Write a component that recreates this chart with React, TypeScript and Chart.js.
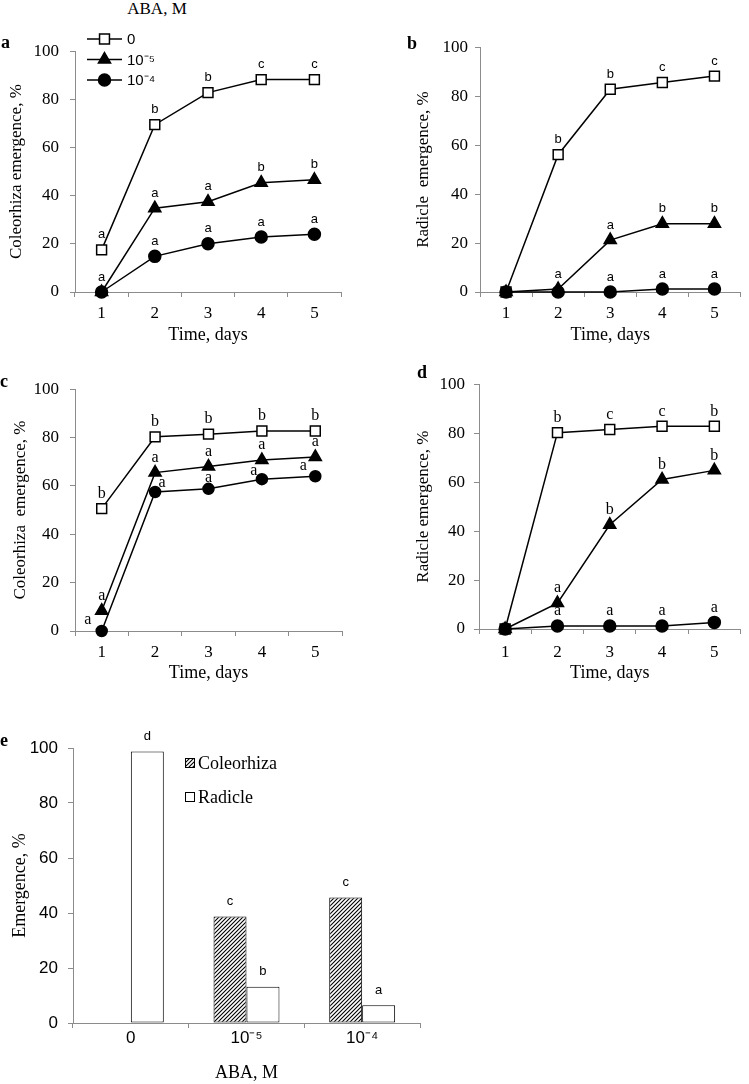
import React, { useEffect, useRef } from 'react';
import { Chart, registerables } from 'chart.js';
Chart.register(...registerables);

// ---------- data ----------
const days = ['1', '2', '3', '4', '5'];
const abaLabels = ['0', '10⁻⁵', '10⁻⁴'];

// panel a: coleorhiza emergence, %
const aCtrl = [17.5, 69.5, 82.8, 88.2, 88.2];
const aLow = [0, 34.8, 37.5, 45.4, 46.6];
const aHigh = [0, 14.8, 20.0, 22.8, 24.0];
const aCtrlSig = ['a', 'b', 'b', 'c', 'c'];
const aLowSig = ['a', 'a', 'a', 'b', 'b'];
const aHighSig = ['', 'a', 'a', 'a', 'a'];

// panel b: radicle emergence, %
const bCtrl = [0, 56.1, 82.8, 85.6, 88.2];
const bLow = [0, 1.2, 21.2, 27.9, 27.9];
const bHigh = [0, 0, 0, 1.2, 1.2];
const bCtrlSig = ['', 'b', 'b', 'c', 'c'];
const bLowSig = ['', 'a', 'a', 'b', 'b'];
const bHighSig = ['', '', 'a', 'a', 'a'];

// panel c: coleorhiza emergence, %
const cCtrl = [50.6, 80.3, 81.4, 82.7, 82.7];
const cLow = [8.4, 65.5, 68.0, 70.7, 72.0];
const cHigh = [0, 57.5, 58.8, 62.8, 64.0];
const cCtrlSig = ['b', 'b', 'b', 'b', 'b'];
const cLowSig = ['a', 'a', 'a', 'a', 'a'];
const cHighSig = ['a', 'a', 'a', 'a', 'a'];

// panel d: radicle emergence, %
const dCtrl = [0, 80.2, 81.5, 82.8, 82.8];
const dLow = [0, 10.6, 42.6, 61.1, 64.8];
const dHigh = [0, 1.2, 1.2, 1.2, 2.7];
const dCtrlSig = ['', 'b', 'c', 'c', 'b'];
const dLowSig = ['', 'a', 'b', 'b', 'b'];
const dHighSig = ['', 'a', 'a', 'a', 'a'];

// panel e: emergence, %
const eCats = ['0', '10⁻⁵', '10⁻⁴'];
const eColeo = [null, 38.7, 45.6];
const eRadicle = [98.7, 13.2, 6.5];
const eColeoSig = ['', 'c', 'c'];
const eRadicleSig = ['d', 'b', 'a'];

// ---------- styles ----------
const SERIF = '"Liberation Serif", "Times New Roman", serif';
const SANS = '"Liberation Sans", Arial, sans-serif';
const AX = '#8c8c8c';

const sigPlugin = {
  id: 'sig',
  afterDatasetsDraw(chart: any, _a: any, o: any) {
    const ctx = chart.ctx;
    ctx.save();
    ctx.font = o.font;
    ctx.fillStyle = '#000';
    ctx.textAlign = 'center';
    ctx.textBaseline = 'middle';
    chart.data.datasets.forEach((ds: any, i: number) => {
      const meta = chart.getDatasetMeta(i);
      (ds.sig || []).forEach((s: string, j: number) => {
        if (!s) return;
        const el = meta.data[j];
        if (!el) return;
        const dy = Array.isArray(ds.sigDy) ? ds.sigDy[j] : (ds.sigDy ?? o.dy);
        const dx = Array.isArray(ds.sigDx) ? ds.sigDx[j] : (ds.sigDx ?? 0);
        ctx.fillText(s, el.x + dx, el.y - dy);
      });
    });
    ctx.restore();
  },
};

function drawMarker(ctx: CanvasRenderingContext2D, style: string, x: number, y: number, r: number, fill: string) {
  ctx.beginPath();
  if (style === 'rect') {
    const s = r * Math.SQRT1_2;
    ctx.rect(x - s, y - s, 2 * s, 2 * s);
  } else if (style === 'triangle') {
    for (let k = 0; k < 3; k++) {
      const a = (k * 2 * Math.PI) / 3;
      const px = x + Math.sin(a) * r;
      const py = y - Math.cos(a) * r;
      if (k === 0) ctx.moveTo(px, py); else ctx.lineTo(px, py);
    }
    ctx.closePath();
  } else {
    ctx.arc(x, y, r, 0, Math.PI * 2);
  }
  ctx.fillStyle = fill;
  ctx.fill();
  ctx.strokeStyle = '#000';
  ctx.lineWidth = 1.5;
  ctx.stroke();
}

const lineLegend = {
  id: 'lineLegend',
  afterDraw(chart: any, _a: any, o: any) {
    const ctx = chart.ctx;
    ctx.save();
    chart.data.datasets.forEach((ds: any, i: number) => {
      const y = o.y0 + i * o.step;
      ctx.beginPath();
      ctx.moveTo(o.x1, y);
      ctx.lineTo(o.x2, y);
      ctx.strokeStyle = '#000';
      ctx.lineWidth = 1.5;
      ctx.stroke();
      const bg = ds.pointStyle === 'rect' ? '#fff' : '#000';
      drawMarker(ctx, ds.pointStyle, (o.x1 + o.x2) / 2, y, ds.pointRadius, bg);
      ctx.fillStyle = '#000';
      ctx.font = o.font;
      ctx.textAlign = 'left';
      ctx.textBaseline = 'middle';
      ctx.fillText(ds.label, o.x2 + 5, y + 1);
    });
    ctx.restore();
  },
};

const barLegend = {
  id: 'barLegend',
  afterDraw(chart: any, _a: any, o: any) {
    const ctx = chart.ctx;
    ctx.save();
    chart.data.datasets.forEach((ds: any, i: number) => {
      const y = o.y0 + i * o.step;
      ctx.fillStyle = ds.backgroundColor;
      ctx.fillRect(o.x, y - 5, 10, 10);
      ctx.strokeStyle = '#000';
      ctx.lineWidth = 1;
      ctx.strokeRect(o.x + 0.5, y - 4.5, 9, 9);
      ctx.fillStyle = '#000';
      ctx.font = o.font;
      ctx.textAlign = 'left';
      ctx.textBaseline = 'middle';
      ctx.fillText(ds.label, o.x + 13, y + 1);
    });
    ctx.restore();
  },
};

type XOpt = { title: string; tickFont: any; tickPad: number; titleFont: any; titlePad: number; height: number };
type YOpt = { title: string; tickFont: any; tickPad: number; titleFont: any; titlePad: number; width: number };

function xCat(o: XOpt) {
  return {
    type: 'category',
    offset: true,
    grid: { offset: true, drawOnChartArea: false, drawTicks: true, tickLength: 5, color: AX, lineWidth: 1 },
    border: { color: AX, width: 1 },
    ticks: { color: '#000', font: o.tickFont, padding: o.tickPad, maxRotation: 0, autoSkip: false },
    title: { display: true, text: o.title, color: '#000', font: o.titleFont, padding: { top: 0, bottom: o.titlePad } },
    afterFit: (s: any) => { s.height = o.height; },
  };
}

function yLin(o: YOpt) {
  return {
    type: 'linear',
    min: 0,
    max: 100,
    ticks: { stepSize: 20, color: '#000', font: o.tickFont, padding: o.tickPad },
    grid: { drawOnChartArea: false, drawTicks: true, tickLength: 5, color: AX, lineWidth: 1 },
    border: { color: AX, width: 1 },
    title: { display: true, text: o.title, color: '#000', font: o.titleFont, padding: { top: o.titlePad, bottom: 0 } },
    afterFit: (s: any) => { s.width = o.width; },
  };
}

function lineSets(ctrl: number[], low: number[], high: number[], sigs: string[][], pr: { sq: number; tr: number; ci: number }, highLabelShift?: { dx: number[]; dy: number[] }) {
  const common = { borderColor: '#000', borderWidth: 1.5, tension: 0, clip: false, pointBorderColor: '#000', pointBorderWidth: 1.5 };
  return [
    { ...common, label: abaLabels[0], data: ctrl, pointStyle: 'rect', pointRadius: pr.sq,
      pointBackgroundColor: ctrl.map((v) => (v === 0 ? '#000' : '#fff')), sig: sigs[0], order: 0 },
    { ...common, label: abaLabels[1], data: low, pointStyle: 'triangle', pointRadius: pr.tr,
      pointBackgroundColor: '#000', sig: sigs[1], order: 1 },
    { ...common, label: abaLabels[2], data: high, pointStyle: 'circle', pointRadius: pr.ci,
      pointBackgroundColor: '#000', sig: sigs[2], sigDx: highLabelShift?.dx, sigDy: highLabelShift?.dy, order: 2 },
  ];
}

type Panel = { left: number; top: number; width: number; height: number; make: () => any };

function ChartBox({ p }: { p: Panel }) {
  const ref = useRef<HTMLCanvasElement>(null);
  useEffect(() => {
    const chart = new Chart(ref.current as HTMLCanvasElement, p.make());
    return () => chart.destroy();
  }, []);
  return (
    <canvas
      ref={ref}
      width={p.width}
      height={p.height}
      style={{ position: 'absolute', left: p.left, top: p.top, width: p.width, height: p.height, display: 'block' }}
    />
  );
}

const serif = (size: number) => ({ family: SERIF, size });
const sans = (size: number) => ({ family: SANS, size });

function lineConfig(datasets: any[], pad: any, x: XOpt, y: YOpt, sigFont: string, extraPlugins: any[] = [], extraOpts: any = {}) {
  return {
    type: 'line',
    data: { labels: days, datasets },
    options: {
      animation: false,
      responsive: false,
      layout: { padding: pad },
      plugins: { legend: { display: false }, tooltip: { enabled: false }, sig: { font: sigFont, dy: 15 }, ...extraOpts },
      scales: { x: xCat(x), y: yLin(y) },
    },
    plugins: [sigPlugin, ...extraPlugins],
  };
}

const panels: Panel[] = [
  {
    left: 0, top: 30, width: 375, height: 320,
    make: () => lineConfig(
      lineSets(aCtrl, aLow, aHigh, [aCtrlSig, aLowSig, aHighSig], { sq: 7, tr: 7, ci: 6 }),
      { left: 0, top: 12, right: 34, bottom: 0 },
      { title: 'Time, days', tickFont: serif(17), tickPad: 6, titleFont: serif(18), titlePad: 4, height: 58 },
      { title: 'Coleorhiza emergence, %', tickFont: serif(17), tickPad: 11, titleFont: serif(17), titlePad: 6, width: 75 },
      `13px ${SANS}`,
      [lineLegend],
      { lineLegend: { x1: 87, x2: 122, y0: 9, step: 20.5, font: `15px ${SANS}` } },
    ),
  },
  {
    left: 380, top: 30, width: 369, height: 320,
    make: () => lineConfig(
      lineSets(bCtrl, bLow, bHigh, [bCtrlSig, bLowSig, bHighSig], { sq: 7, tr: 7, ci: 6 }),
      { left: 30, top: 12, right: 4, bottom: 0 },
      { title: 'Time, days', tickFont: serif(17), tickPad: 6, titleFont: serif(18), titlePad: 4, height: 58 },
      { title: 'Radicle  emergence, %', tickFont: serif(17), tickPad: 7, titleFont: serif(17), titlePad: 3, width: 70 },
      `13px ${SANS}`,
    ),
  },
  {
    left: 0, top: 368, width: 375, height: 320,
    make: () => lineConfig(
      lineSets(cCtrl, cLow, cHigh, [cCtrlSig, cLowSig, cHighSig], { sq: 7, tr: 7, ci: 5.5 },
        { dx: [-14, 7, 0, -8, -12], dy: [11, 9, 11, 8, 10] }),
      { left: 0, top: 12, right: 33, bottom: 0 },
      { title: 'Time, days', tickFont: serif(17), tickPad: 6, titleFont: serif(18), titlePad: 4, height: 57 },
      { title: 'Coleorhiza  emergence, %', tickFont: serif(17), tickPad: 11, titleFont: serif(17), titlePad: 10, width: 75 },
      `16px ${SERIF}`,
    ),
  },
  {
    left: 380, top: 365, width: 369, height: 320,
    make: () => lineConfig(
      lineSets(dCtrl, dLow, dHigh, [dCtrlSig, dLowSig, dHighSig], { sq: 7, tr: 7, ci: 6 }),
      { left: 30, top: 12, right: 1, bottom: 0 },
      { title: 'Time, days', tickFont: serif(17), tickPad: 8, titleFont: serif(18), titlePad: 1, height: 56 },
      { title: 'Radicle emergence, %', tickFont: serif(17), tickPad: 9, titleFont: serif(17), titlePad: 3, width: 69 },
      `16px ${SERIF}`,
    ),
  },
  {
    left: 0, top: 720, width: 430, height: 364,
    make: () => {
      const pc = document.createElement('canvas');
      pc.width = 4; pc.height = 4;
      const g = pc.getContext('2d') as CanvasRenderingContext2D;
      g.fillStyle = '#fff';
      g.fillRect(0, 0, 4, 4);
      g.strokeStyle = '#000';
      g.lineWidth = 1.1;
      g.beginPath();
      g.moveTo(-1, 5); g.lineTo(5, -1);
      g.moveTo(-1, 1); g.lineTo(1, -1);
      g.moveTo(3, 5); g.lineTo(5, 3);
      g.stroke();
      const pattern = g.createPattern(pc, 'repeat');
      return {
        type: 'bar',
        data: {
          labels: eCats,
          datasets: [
            { label: 'Coleorhiza', data: eColeo, backgroundColor: pattern, borderColor: '#000', borderWidth: 1,
              borderSkipped: false, sig: eColeoSig, categoryPercentage: 0.57, barPercentage: 1 },
            { label: 'Radicle', data: eRadicle, backgroundColor: '#fff', borderColor: '#000', borderWidth: 1,
              borderSkipped: false, sig: eRadicleSig, categoryPercentage: 0.57, barPercentage: 1 },
          ],
        },
        options: {
          animation: false,
          responsive: false,
          layout: { padding: { left: 0, top: 28, right: 10, bottom: 0 } },
          plugins: {
            legend: { display: false }, tooltip: { enabled: false },
            sig: { font: `13px ${SANS}`, dy: 15 },
            barLegend: { x: 185, y0: 43, step: 34, font: `18px ${SERIF}` },
          },
          scales: {
            x: xCat({ title: 'ABA, M', tickFont: sans(17), tickPad: 0, titleFont: serif(18), titlePad: 0, height: 61 }),
            y: yLin({ title: 'Emergence, %', tickFont: sans(17), tickPad: 10, titleFont: serif(18), titlePad: 9, width: 73 }),
          },
        },
        plugins: [sigPlugin, barLegend],
      };
    },
  },
];

const panelLetters = [
  { t: 'a', left: 1, top: 33 },
  { t: 'b', left: 407, top: 34 },
  { t: 'c', left: 0, top: 372 },
  { t: 'd', left: 417, top: 363 },
  { t: 'e', left: 0, top: 731 },
];

export default function App() {
  return (
    <div style={{ position: 'absolute', left: 0, top: 0, width: 749, height: 1084, background: '#fff', overflow: 'hidden' }}>
      {panels.map((p, i) => <ChartBox key={i} p={p} />)}
      <div style={{ position: 'absolute', left: 157, top: 0, transform: 'translateX(-50%)', font: `17px/17px ${SERIF}`, whiteSpace: 'nowrap' }}>
        ABA, M
      </div>
      {panelLetters.map((l) => (
        <div key={l.t} style={{ position: 'absolute', left: l.left, top: l.top, font: `bold 18px/18px ${SERIF}` }}>{l.t}</div>
      ))}
    </div>
  );
}
